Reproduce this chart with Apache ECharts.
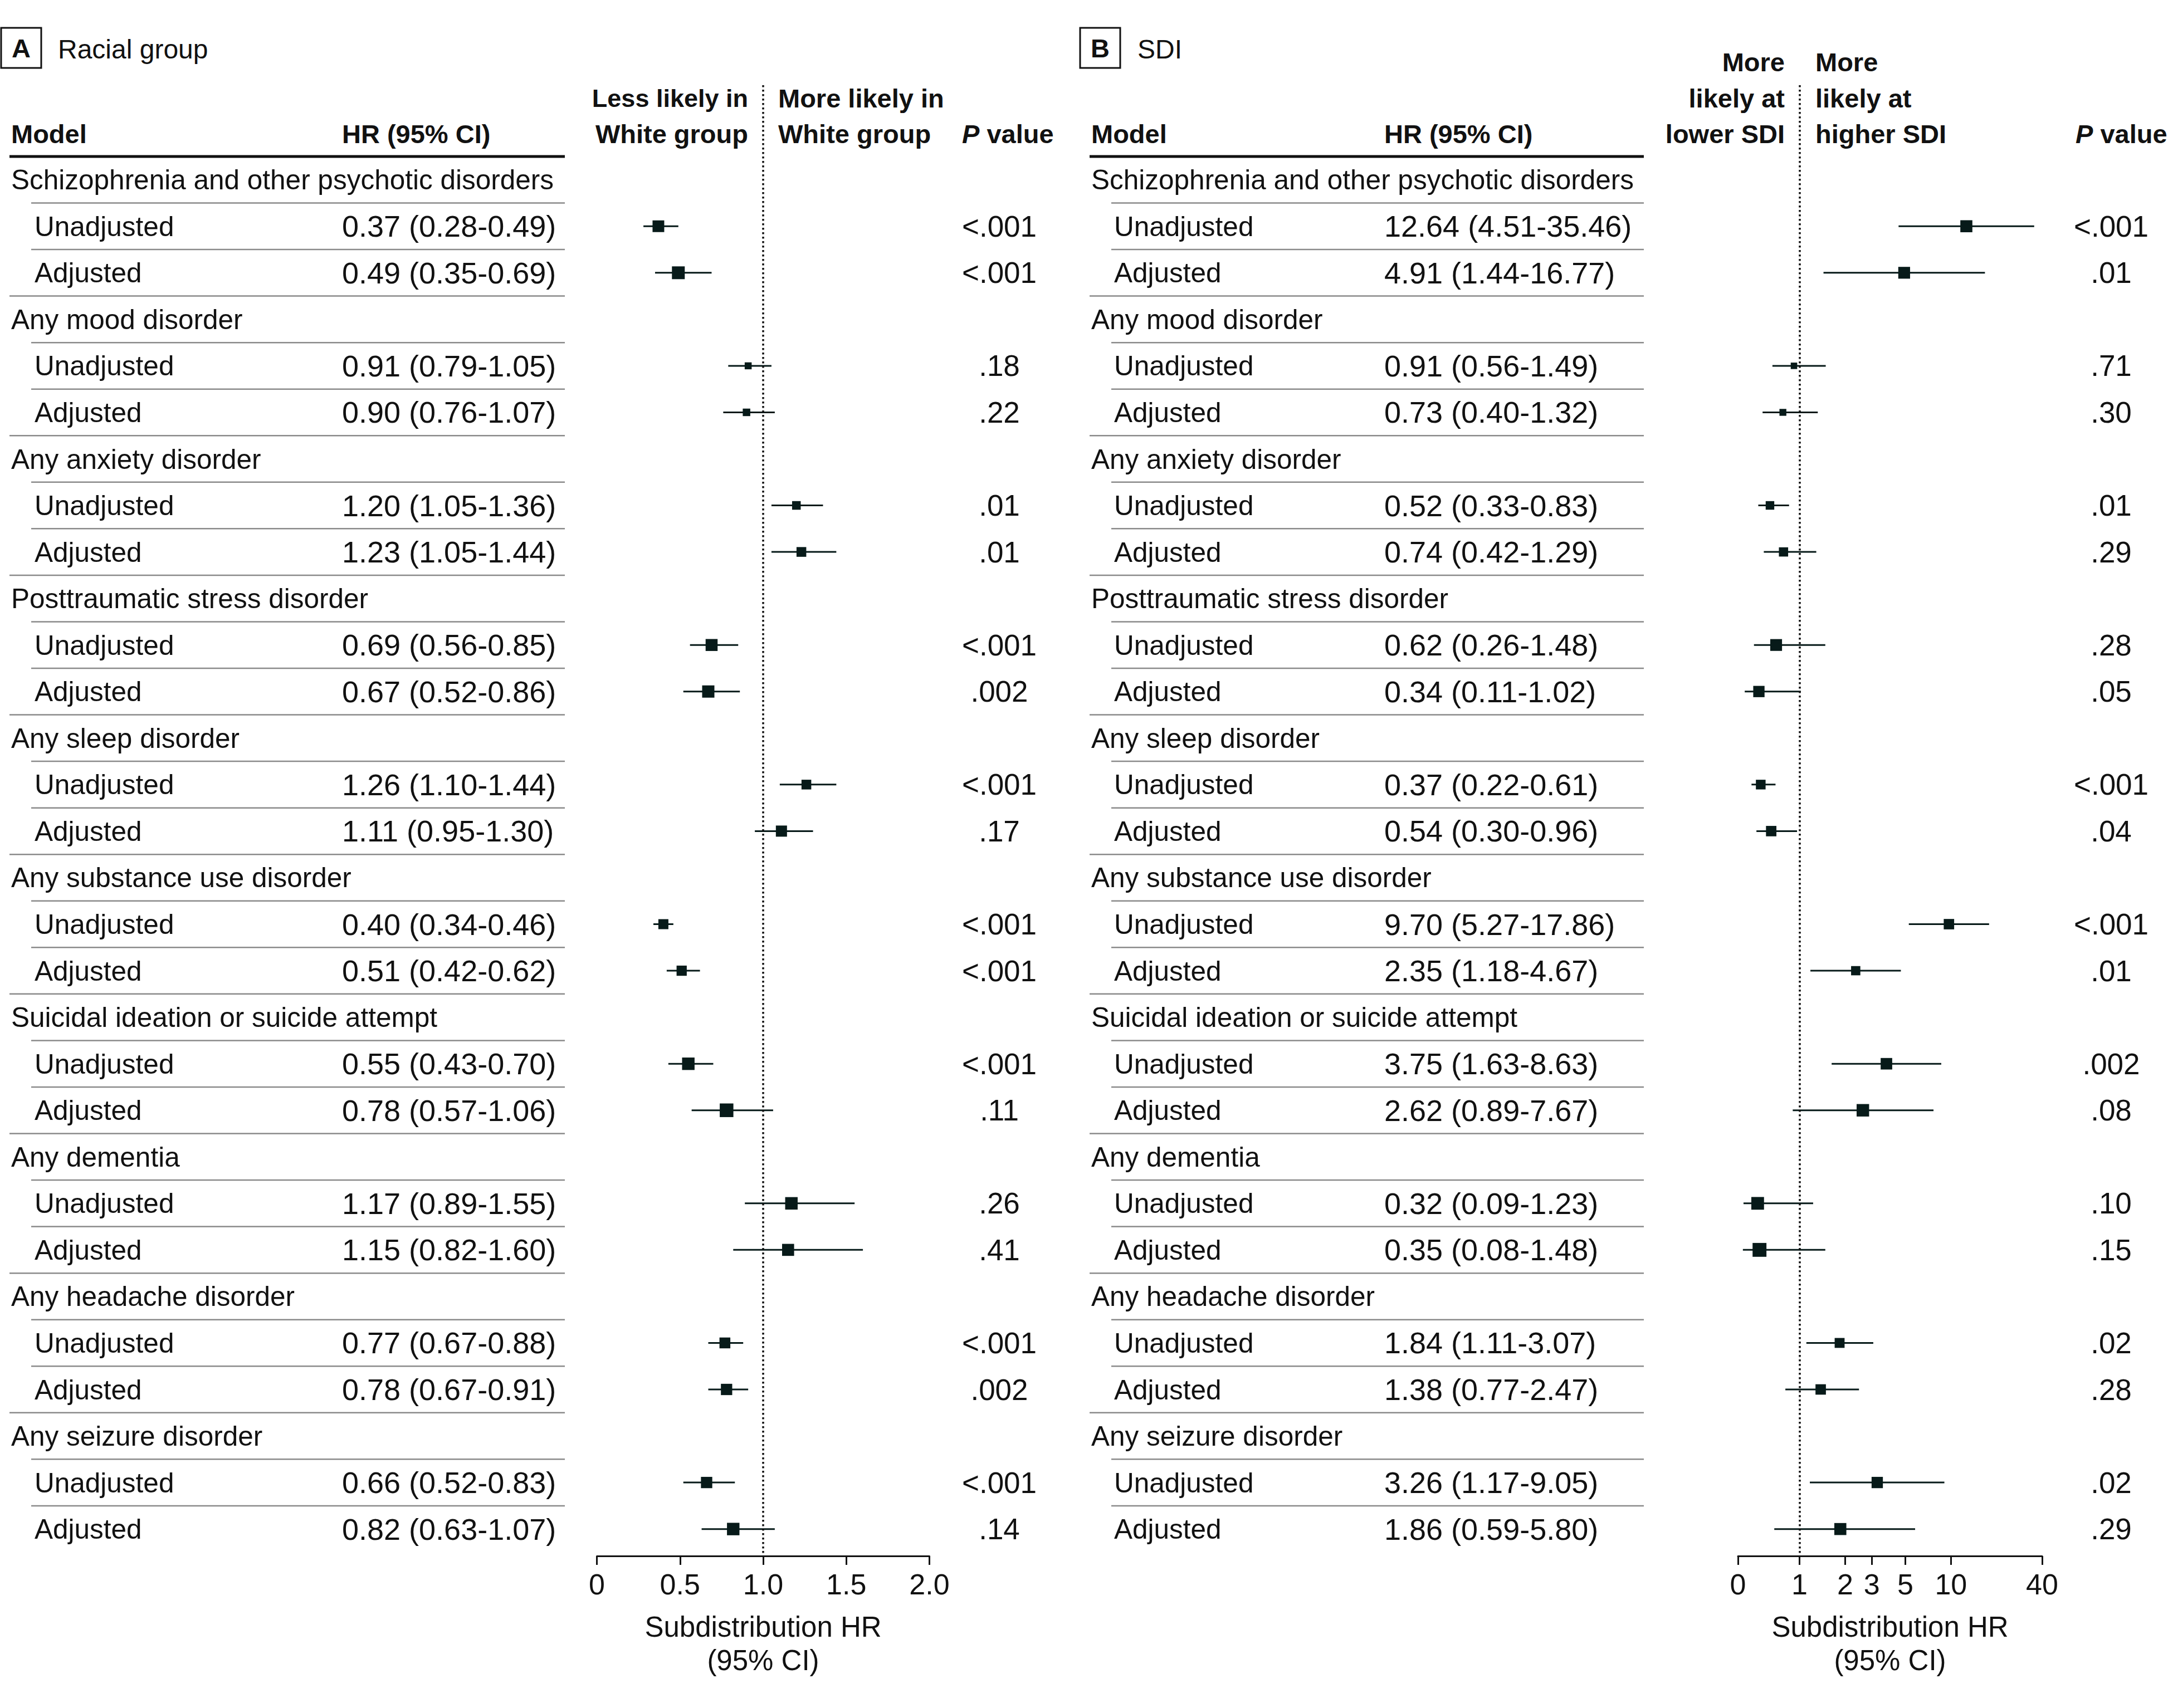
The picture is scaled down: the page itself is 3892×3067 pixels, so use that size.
<!DOCTYPE html>
<html>
<head>
<meta charset="utf-8">
<script src="https://cdn.jsdelivr.net/npm/echarts@6/dist/echarts.min.js"></script>
<style>html,body{margin:0;padding:0;background:#fff}#c{width:3892px;height:3067px}</style>
</head>
<body>
<div id="c"></div>
<script>
// ---------------- DATA ----------------
const groups = [
  'Schizophrenia and other psychotic disorders',
  'Any mood disorder',
  'Any anxiety disorder',
  'Posttraumatic stress disorder',
  'Any sleep disorder',
  'Any substance use disorder',
  'Suicidal ideation or suicide attempt',
  'Any dementia',
  'Any headache disorder',
  'Any seizure disorder'
];
const models = ['Unadjusted', 'Adjusted'];

// Panel A: Racial group (order: group by group, Unadjusted then Adjusted)
const hrA = [0.37, 0.49, 0.91, 0.90, 1.20, 1.23, 0.69, 0.67, 1.26, 1.11, 0.40, 0.51, 0.55, 0.78, 1.17, 1.15, 0.77, 0.78, 0.66, 0.82];
const loA = [0.28, 0.35, 0.79, 0.76, 1.05, 1.05, 0.56, 0.52, 1.10, 0.95, 0.34, 0.42, 0.43, 0.57, 0.89, 0.82, 0.67, 0.67, 0.52, 0.63];
const hiA = [0.49, 0.69, 1.05, 1.07, 1.36, 1.44, 0.85, 0.86, 1.44, 1.30, 0.46, 0.62, 0.70, 1.06, 1.55, 1.60, 0.88, 0.91, 0.83, 1.07];
const pA = ['<.001', '<.001', '.18', '.22', '.01', '.01', '<.001', '.002', '<.001', '.17', '<.001', '<.001', '<.001', '.11', '.26', '.41', '<.001', '.002', '<.001', '.14'];
const weightA = [21, 23, 12.5, 13.5, 15.5, 17.5, 21.5, 22, 17.5, 20, 18, 18.3, 22.4, 24.5, 22.4, 21.6, 19.5, 20.3, 20.3, 22.4];

// Panel B: SDI
const hrB = [12.64, 4.91, 0.91, 0.73, 0.52, 0.74, 0.62, 0.34, 0.37, 0.54, 9.70, 2.35, 3.75, 2.62, 0.32, 0.35, 1.84, 1.38, 3.26, 1.86];
const loB = [4.51, 1.44, 0.56, 0.40, 0.33, 0.42, 0.26, 0.11, 0.22, 0.30, 5.27, 1.18, 1.63, 0.89, 0.09, 0.08, 1.11, 0.77, 1.17, 0.59];
const hiB = [35.46, 16.77, 1.49, 1.32, 0.83, 1.29, 1.48, 1.02, 0.61, 0.96, 17.86, 4.67, 8.63, 7.67, 1.23, 1.48, 3.07, 2.47, 9.05, 5.80];
const pB = ['<.001', '.01', '.71', '.30', '.01', '.29', '.28', '.05', '<.001', '.04', '<.001', '.01', '.002', '.08', '.10', '.15', '.02', '.28', '.02', '.29'];
const weightB = [21.6, 21.2, 11.6, 12.4, 15.4, 16.6, 21.2, 20.3, 17.4, 18.7, 18.7, 16.6, 20.7, 22.4, 22.8, 24.9, 17.8, 18.7, 20.3, 21.6];

const tickValuesA = [0, 0.5, 1, 1.5, 2];
const tickLabelsA = ['0', '0.5', '1.0', '1.5', '2.0'];
const tickValuesB = [0, 1, 2, 3, 5, 10, 40];
const tickLabelsB = ['0', '1', '2', '3', '5', '10', '40'];
const axisTitle = 'Subdistribution HR\n(95% CI)';

// ---------------- LAYOUT / STYLE ----------------
const ROW0 = 322.7, PITCH = 83.55;
const FOREST_TOP = 153, AXIS_Y = 2794;
const FONT = '"Liberation Sans", Arial, Helvetica, sans-serif';
const FS = 51, FS_NAME = 49.5, FS_NUM = 54, FSB = 47;
const INK = '#111111';
const MARK = '#071a19';
const GRAY = '#8a8a8a';
const K_LOG = 2.46; // log-decade width relative to the 0-1 linear unit in panel B
const tLin = v => v;
const tB = v => (v <= 1 ? v : 1 + K_LOG * Math.log10(v));

// rows
const rowIds = [], rowKind = [], rowGroup = [], rowModel = [];
groups.forEach((g, gi) => {
  rowIds.push('g' + gi); rowKind.push('group'); rowGroup.push(gi); rowModel.push(-1);
  models.forEach((m, mi) => {
    rowIds.push('g' + gi + 'm' + mi); rowKind.push('model'); rowGroup.push(gi); rowModel.push(mi);
  });
});
const NROWS = rowIds.length;
const TABLE_TOP = ROW0 - PITCH / 2;
const dataIndexOfRow = r => rowKind[r] === 'model' ? rowGroup[r] * models.length + rowModel[r] : -1;
const rowOfData = [];
rowIds.forEach((id, r) => { const k = dataIndexOfRow(r); if (k >= 0) rowOfData[k] = r; });

const panels = [
  { hr: hrA, lo: loA, hi: hiA, p: pA, w: weightA, tv: tickValuesA, tl: tickLabelsA, tf: tLin,
    groupX: 20, modelX: 62, hrX: 614, pX: 1794, lineL: 17, lineIndL: 56, lineR: 1014,
    forestL: 1071.5, forestR: 1668.5 },
  { hr: hrB, lo: loB, hi: hiB, p: pB, w: weightB, tv: tickValuesB, tl: tickLabelsB, tf: tB,
    groupX: 1959, modelX: 2000, hrX: 2485, pX: 3790, lineL: 1956, lineIndL: 1995, lineR: 2951,
    forestL: 3120, forestR: 3666 }
];

const fmt = v => v.toFixed(2);
const baseLabel = { color: INK, fontFamily: FONT, fontSize: FS };

const grid = [], xAxis = [], yAxis = [], series = [];

panels.forEach((P, pi) => {
  const textCols = [
    { x: P.groupX, align: 'left', fs: FS_NAME, f: (v, i) => rowKind[i] === 'group' ? groups[rowGroup[i]] : '' },
    { x: P.modelX, align: 'left', fs: FS_NAME, f: (v, i) => rowKind[i] === 'model' ? models[rowModel[i]] : '' },
    { x: P.hrX, align: 'left', fs: FS_NUM, f: (v, i) => { const k = dataIndexOfRow(i); return k < 0 ? '' : fmt(P.hr[k]) + ' (' + fmt(P.lo[k]) + '-' + fmt(P.hi[k]) + ')'; } },
    { x: P.pX, align: 'center', fs: FS_NUM - 1, f: (v, i) => { const k = dataIndexOfRow(i); return k < 0 ? '' : P.p[k]; } }
  ];
  textCols.forEach(col => {
    const gi = grid.length;
    grid.push({ left: col.x, top: TABLE_TOP, width: 10, height: NROWS * PITCH, containLabel: false, outerBoundsMode: 'none' });
    xAxis.push({ gridIndex: gi, type: 'value', show: false });
    yAxis.push({
      gridIndex: gi, type: 'category', data: rowIds, inverse: true,
      axisLine: { show: false }, axisTick: { show: false }, splitLine: { show: false },
      axisLabel: Object.assign({}, baseLabel, { fontSize: col.fs, inside: true, margin: 0, interval: 0, align: col.align, hideOverlap: false, formatter: col.f })
    });
  });

  // forest grid
  const fi = grid.length;
  grid.push({ left: P.forestL, top: FOREST_TOP, width: P.forestR - P.forestL, height: AXIS_Y - FOREST_TOP, containLabel: false, outerBoundsMode: 'none' });
  const tvT = P.tv.map(P.tf);
  xAxis.push({
    gridIndex: fi, type: 'value', min: tvT[0], max: tvT[tvT.length - 1],
    axisLine: { show: true, onZero: false, lineStyle: { color: INK, width: 3 } },
    axisTick: { show: true, inside: false, length: 16, customValues: tvT, lineStyle: { color: INK, width: 3 } },
    splitLine: { show: false },
    axisLabel: Object.assign({}, baseLabel, {
      fontSize: 52, margin: 25, customValues: tvT, hideOverlap: false,
      formatter: v => { const i = tvT.findIndex(t => Math.abs(t - v) < 1e-6); return i >= 0 ? P.tl[i] : ''; }
    }),
    name: axisTitle, nameLocation: 'middle', nameGap: 97,
    nameTextStyle: { color: INK, fontFamily: FONT, fontSize: FS, lineHeight: 60 }
  });
  yAxis.push({
    gridIndex: fi, type: 'value', inverse: true, show: false,
    min: -(ROW0 - FOREST_TOP) / PITCH, max: (AXIS_Y - ROW0) / PITCH,
    splitLine: { show: false }
  });

  series.push({
    type: 'custom', xAxisIndex: fi, yAxisIndex: fi, silent: true, z: 3,
    data: P.hr.map((_, k) => [P.tf(P.lo[k]), P.tf(P.hi[k]), rowOfData[k]]),
    encode: { x: [0, 1], y: 2 },
    renderItem: (params, api) => {
      const a = api.coord([api.value(0), api.value(2)]);
      const b = api.coord([api.value(1), api.value(2)]);
      return { type: 'line', shape: { x1: a[0], y1: a[1], x2: b[0], y2: b[1] }, style: { stroke: MARK, lineWidth: 3 } };
    }
  });
  series.push({
    type: 'scatter', xAxisIndex: fi, yAxisIndex: fi, silent: true, z: 4,
    data: P.hr.map((v, k) => [P.tf(v), rowOfData[k]]),
    symbol: 'rect',
    symbolSize: (val, params) => [P.w[params.dataIndex], P.w[params.dataIndex]],
    itemStyle: { color: MARK, opacity: 1, borderWidth: 0 },
    emphasis: { disabled: true },
    markLine: {
      silent: true, symbol: 'none', label: { show: false }, animation: false,
      lineStyle: { color: INK, width: 3.5, type: [3.5, 4.5] },
      emphasis: { disabled: true },
      data: [{ xAxis: P.tf(1) }]
    }
  });
});

const option = {
  backgroundColor: '#ffffff',
  animation: false,
  textStyle: { fontFamily: FONT },
  grid, xAxis, yAxis, series
};

const chart = echarts.init(document.getElementById('c'), null, { renderer: 'svg', width: 3892, height: 3067 });
chart.setOption(option);

// ---------- headers and table rules ----------
const txt = (text, x, y, opt) => ({
  type: 'text', x, y, silent: true,
  style: Object.assign({ text, fill: INK, fontFamily: FONT, fontSize: FSB, fontWeight: 'bold', align: 'left', verticalAlign: 'middle' }, opt || {})
});
const pHeader = (x) => ({
  type: 'text', x, y: 240.5, silent: true,
  style: {
    text: '{i|P}{b| value}', align: 'left', verticalAlign: 'middle',
    rich: {
      i: { fontFamily: FONT, fontSize: FSB, fontWeight: 'bold', fontStyle: 'italic', fill: INK, color: INK },
      b: { fontFamily: FONT, fontSize: FSB, fontWeight: 'bold', fill: INK, color: INK }
    }
  }
});
const gfx = [
  // Panel A header
  { type: 'rect', silent: true, shape: { x: 2, y: 50, width: 72, height: 72 }, style: { fill: 'none', stroke: INK, lineWidth: 3 } },
  txt('A', 38, 86, { align: 'center' }),
  txt('Racial group', 104, 88, { fontWeight: 'normal', fontSize: 48 }),
  txt('Model', 20, 240.5),
  txt('HR (95% CI)', 614, 240.5),
  txt('Less likely in', 1343, 176, { align: 'right', fontSize: 45 }),
  txt('White group', 1343, 240.5, { align: 'right' }),
  txt('More likely in', 1397, 176),
  txt('White group', 1397, 240.5),
  pHeader(1727),
  // Panel B header
  { type: 'rect', silent: true, shape: { x: 1939, y: 50, width: 72, height: 72 }, style: { fill: 'none', stroke: INK, lineWidth: 3 } },
  txt('B', 1975, 86, { align: 'center' }),
  txt('SDI', 2042, 88, { fontWeight: 'normal', fontSize: 48 }),
  txt('Model', 1959, 240.5),
  txt('HR (95% CI)', 2485, 240.5),
  txt('More', 3204, 111.5, { align: 'right' }),
  txt('likely at', 3204, 176, { align: 'right' }),
  txt('lower SDI', 3204, 240.5, { align: 'right' }),
  txt('More', 3259, 111.5),
  txt('likely at', 3259, 176),
  txt('higher SDI', 3259, 240.5),
  pHeader(3726)
];

panels.forEach((P, pi) => {
  const axisIdx = pi * 5; // group-name axis of this panel
  const c = i => chart.convertToPixel({ yAxisIndex: axisIdx }, rowIds[i]);
  for (let b = 0; b < NROWS; b++) {
    const y = b === 0 ? c(0) - (c(1) - c(0)) / 2 : (c(b - 1) + c(b)) / 2;
    if (b === 0) {
      gfx.push({ type: 'line', silent: true, shape: { x1: P.lineL, y1: y, x2: P.lineR, y2: y }, style: { stroke: INK, lineWidth: 5 } });
    } else if (rowKind[b] === 'group') {
      gfx.push({ type: 'line', silent: true, shape: { x1: P.lineL, y1: y, x2: P.lineR, y2: y }, style: { stroke: GRAY, lineWidth: 2.5 } });
    } else {
      gfx.push({ type: 'line', silent: true, shape: { x1: P.lineIndL, y1: y, x2: P.lineR, y2: y }, style: { stroke: GRAY, lineWidth: 2.5 } });
    }
  }
});
chart.setOption({ graphic: gfx });
</script>
</body>
</html>
